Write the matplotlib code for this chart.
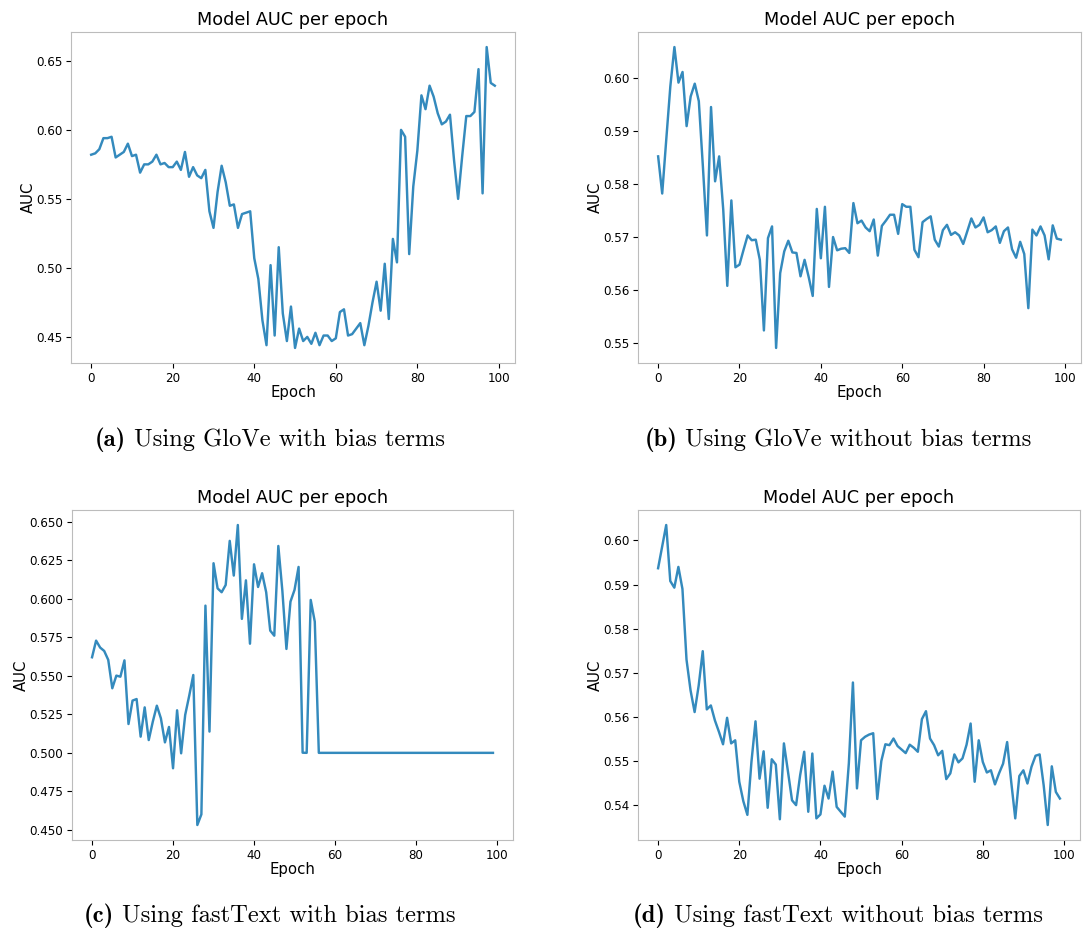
import matplotlib
matplotlib.use("Agg")
import matplotlib.pyplot as plt
import numpy as np

# AUC per epoch
epochs = np.arange(100)

glove_bias = [
    0.582, 0.583, 0.586, 0.594, 0.594, 0.595, 0.580, 0.582, 0.584, 0.590,
    0.581, 0.582, 0.569, 0.575, 0.575, 0.577, 0.582, 0.575, 0.576, 0.573,
    0.573, 0.577, 0.571, 0.584, 0.566, 0.573, 0.567, 0.565, 0.571, 0.541,
    0.529, 0.555, 0.574, 0.562, 0.545, 0.546, 0.529, 0.539, 0.540, 0.541,
    0.507, 0.492, 0.462, 0.444, 0.502, 0.451, 0.515, 0.467, 0.447, 0.472,
    0.442, 0.456, 0.447, 0.450, 0.445, 0.453, 0.444, 0.451, 0.451, 0.447,
    0.449, 0.468, 0.470, 0.451, 0.452, 0.456, 0.460, 0.444, 0.458, 0.475,
    0.490, 0.469, 0.503, 0.463, 0.521, 0.504, 0.600, 0.595, 0.510, 0.559,
    0.585, 0.625, 0.615, 0.632, 0.624, 0.612, 0.604, 0.606, 0.611, 0.578,
    0.550, 0.581, 0.610, 0.610, 0.613, 0.644, 0.554, 0.660, 0.634, 0.632,
]

glove_nobias = [
    0.5852, 0.5782, 0.5884, 0.5984, 0.6058, 0.5991, 0.6011, 0.5909, 0.5965, 0.5989,
    0.5956, 0.5833, 0.5703, 0.5945, 0.5805, 0.5852, 0.5752, 0.5608, 0.5769, 0.5643,
    0.5648, 0.5676, 0.5703, 0.5694, 0.5695, 0.5657, 0.5524, 0.5698, 0.5720, 0.5491,
    0.5632, 0.5673, 0.5693, 0.5671, 0.5670, 0.5626, 0.5657, 0.5625, 0.5589, 0.5753,
    0.5660, 0.5757, 0.5606, 0.5700, 0.5675, 0.5678, 0.5679, 0.5670, 0.5764, 0.5726,
    0.5731, 0.5718, 0.5711, 0.5733, 0.5665, 0.5721, 0.5731, 0.5742, 0.5742, 0.5706,
    0.5762, 0.5757, 0.5757, 0.5676, 0.5662, 0.5728, 0.5734, 0.5739, 0.5695, 0.5682,
    0.5713, 0.5723, 0.5704, 0.5709, 0.5703, 0.5687, 0.5711, 0.5735, 0.5718, 0.5723,
    0.5737, 0.5709, 0.5713, 0.5720, 0.5689, 0.5711, 0.5718, 0.5677, 0.5661, 0.5691,
    0.5668, 0.5566, 0.5714, 0.5703, 0.5720, 0.5703, 0.5658, 0.5722, 0.5697, 0.5695,
]

fasttext_bias = [
    0.5620, 0.5728, 0.5683, 0.5661, 0.5603, 0.5419, 0.5501, 0.5494, 0.5600, 0.5187,
    0.5339, 0.5349, 0.5105, 0.5295, 0.5083, 0.5202, 0.5306, 0.5224, 0.5068, 0.5168,
    0.4900, 0.5276, 0.4997, 0.5246, 0.5371, 0.5505, 0.4532, 0.4601, 0.5955, 0.5138,
    0.6230, 0.6067, 0.6042, 0.6089, 0.6375, 0.6150, 0.6478, 0.5869, 0.6119, 0.5708,
    0.6223, 0.6076, 0.6165, 0.6042, 0.5793, 0.5760, 0.6342, 0.6050, 0.5674, 0.5981,
    0.6057, 0.6206, 0.5001, 0.5000, 0.5992, 0.5851, 0.5000, 0.5000, 0.5000, 0.5000,
] + [0.5000] * 40

fasttext_nobias = [
    0.5937, 0.5986, 0.6035, 0.5908, 0.5893, 0.5940, 0.5890, 0.5730, 0.5660, 0.5611,
    0.5671, 0.5749, 0.5617, 0.5626, 0.5592, 0.5566, 0.5538, 0.5598, 0.5540, 0.5547,
    0.5453, 0.5409, 0.5378, 0.5498, 0.5590, 0.5460, 0.5522, 0.5394, 0.5504, 0.5492,
    0.5368, 0.5540, 0.5476, 0.5411, 0.5400, 0.5468, 0.5521, 0.5385, 0.5517, 0.5370,
    0.5379, 0.5444, 0.5415, 0.5476, 0.5396, 0.5385, 0.5374, 0.5495, 0.5678, 0.5438,
    0.5547, 0.5555, 0.5560, 0.5563, 0.5414, 0.5500, 0.5538, 0.5536, 0.5551, 0.5534,
    0.5526, 0.5518, 0.5537, 0.5530, 0.5521, 0.5595, 0.5613, 0.5551, 0.5536, 0.5513,
    0.5523, 0.5459, 0.5472, 0.5515, 0.5497, 0.5506, 0.5537, 0.5585, 0.5453, 0.5547,
    0.5498, 0.5474, 0.5479, 0.5447, 0.5472, 0.5494, 0.5543, 0.5453, 0.5370, 0.5466,
    0.5479, 0.5449, 0.5487, 0.5512, 0.5515, 0.5445, 0.5355, 0.5488, 0.5430, 0.5415,
]

cap_tags = ["(a)", "(b)", "(c)", "(d)"]
cap_texts = [
    "Using GloVe with bias terms",
    "Using GloVe without bias terms",
    "Using fastText with bias terms",
    "Using fastText without bias terms",
]
series = [glove_bias, glove_nobias, fasttext_bias, fasttext_nobias]

plt.style.use("bmh")
plt.rcParams["axes.facecolor"] = "white"
plt.rcParams["axes.grid"] = False
plt.rcParams["xtick.direction"] = "out"
plt.rcParams["ytick.direction"] = "out"

W, H = 1083, 932
fig = plt.figure(figsize=(W / 100, H / 100), dpi=100)

# axes boxes in pixels: left, top, right, bottom
boxes = [
    (71, 32, 515, 363),
    (638, 32, 1081, 363),
    (72, 510, 513, 840),
    (638, 510, 1080, 840),
]
caption_pos = [(270, 440), (838, 440), (270, 916), (838, 916)]
CAP_SIZE = 17.7

renderer = fig.canvas.get_renderer()
for vals, box, tag, txt, cpos in zip(series, boxes, cap_tags, cap_texts, caption_pos):
    l, t, r, b = box
    ax = fig.add_axes([l / W, 1 - b / H, (r - l) / W, (b - t) / H])
    ax.plot(epochs, vals, color="#348ABD", linewidth=1.75)
    ax.set_title("Model AUC per epoch", fontsize=12.7, pad=5)
    ax.set_xlabel("Epoch", fontsize=10.7, labelpad=0.5)
    ax.set_ylabel("AUC", fontsize=10.7, labelpad=0)
    ax.tick_params(labelsize=8.6, length=3.5, color="black", width=0.8, pad=2.8)
    for s in ax.spines.values():
        s.set_color("#bcbcbc")

    # caption: bold tag + regular text, centred as one line
    t1 = fig.text(0, 0, tag, family="cmb10", fontsize=CAP_SIZE)
    t2 = fig.text(0, 0, " " + txt, family="cmr10", fontsize=CAP_SIZE)
    w1 = t1.get_window_extent(renderer).width
    w2 = t2.get_window_extent(renderer).width
    x0 = cpos[0] - (w1 + w2) / 2
    y0 = 1 - cpos[1] / H
    t1.set_position((x0 / W, y0))
    t2.set_position(((x0 + w1) / W, y0))
    t1.set_va("center")
    t2.set_va("center")

fig.savefig("out.png", dpi=100, facecolor="white")
